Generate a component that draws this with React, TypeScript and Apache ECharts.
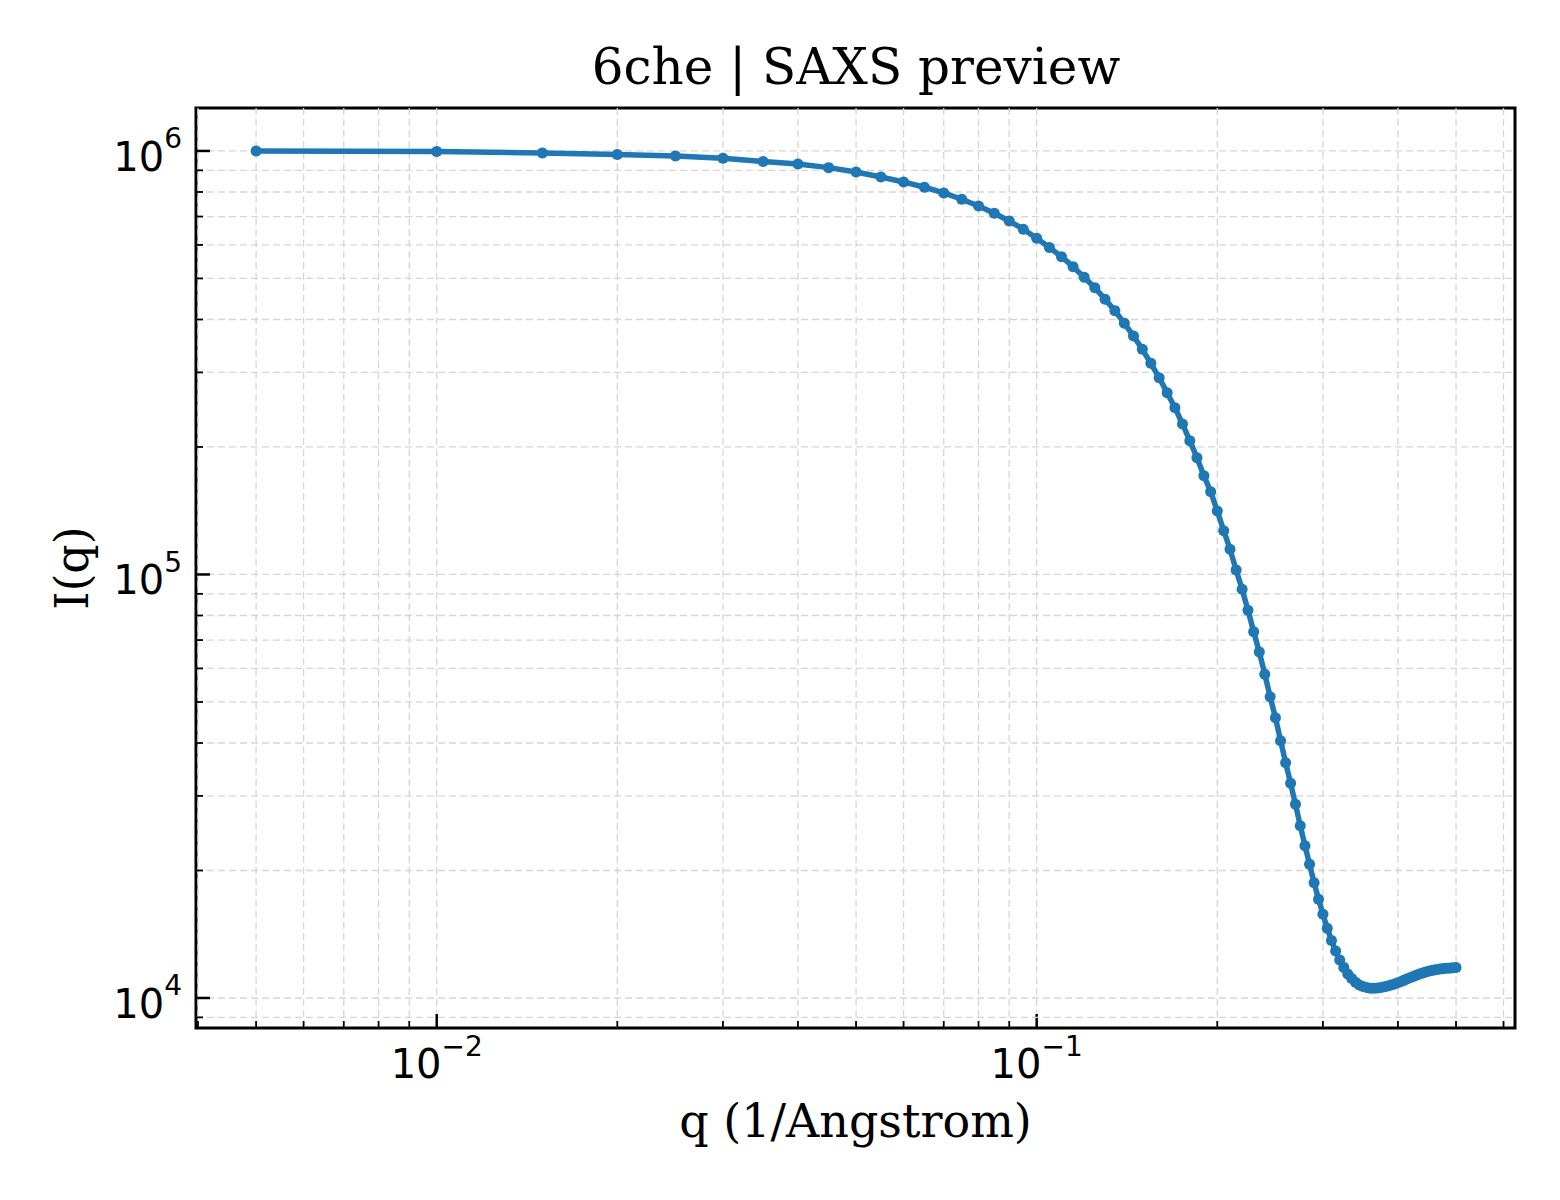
import { useEffect, useRef } from "react";
import * as echarts from "echarts";

// scattering vector q (1/Angstrom)
const Q = [
  0.005, 0.01, 0.015, 0.02, 0.025, 0.03, 0.035, 0.04, 0.045, 0.05,
  0.055, 0.06, 0.065, 0.07, 0.075, 0.08, 0.085, 0.09, 0.095, 0.1,
  0.105, 0.11, 0.115, 0.12, 0.125, 0.13, 0.135, 0.14, 0.145, 0.15,
  0.155, 0.16, 0.165, 0.17, 0.175, 0.18, 0.185, 0.19, 0.195, 0.2,
  0.205, 0.21, 0.215, 0.22, 0.225, 0.23, 0.235, 0.24, 0.245, 0.25,
  0.255, 0.26, 0.265, 0.27, 0.275, 0.28, 0.285, 0.29, 0.295, 0.3,
  0.305, 0.31, 0.315, 0.32, 0.325, 0.33, 0.335, 0.34, 0.345, 0.35,
  0.355, 0.36, 0.365, 0.37, 0.375, 0.38, 0.385, 0.39, 0.395, 0.4,
  0.405, 0.41, 0.415, 0.42, 0.425, 0.43, 0.435, 0.44, 0.445, 0.45,
  0.455, 0.46, 0.465, 0.47, 0.475, 0.48, 0.485, 0.49, 0.495, 0.5,
];

// intensity I(q)
const INTENSITY = [
  1000000, 997000, 989000, 981000, 973000, 961000, 944500, 931800, 913300, 892000,
  868200, 844900, 820900, 795900, 769100, 741600, 712700, 683500, 653400, 622200,
  591800, 562700, 533000, 503000, 475500, 446600, 419700, 391800, 365700, 340100,
  315100, 291500, 268700, 247600, 226600, 207000, 188700, 171100, 156800, 141200,
  126900, 114700, 102500, 92270, 82320, 73270, 65620, 58120, 51450, 45900,
  40510, 35940, 32130, 28670, 25510, 22890, 20690, 18720, 17100, 15760,
  14610, 13670, 12910, 12290, 11810, 11390, 11120, 10890, 10730, 10650,
  10580, 10550, 10550, 10560, 10590, 10630, 10670, 10730, 10790, 10860,
  10940, 11020, 11100, 11180, 11260, 11330, 11390, 11460, 11520, 11570,
  11610, 11650, 11680, 11710, 11730, 11750, 11760, 11770, 11780, 11800,
];

const X_MAJOR = [0.01, 0.1];
const X_MINOR = [
  0.004, 0.005, 0.006, 0.007, 0.008, 0.009,
  0.02, 0.03, 0.04, 0.05, 0.06, 0.07, 0.08, 0.09,
  0.2, 0.3, 0.4, 0.5, 0.6,
];
const Y_MAJOR = [10000, 100000, 1000000];
const Y_MINOR = [
  9000,
  20000, 30000, 40000, 50000, 60000, 70000, 80000, 90000,
  200000, 300000, 400000, 500000, 600000, 700000, 800000, 900000,
];

const FONT = "DejaVu Serif";
const TICK_FONT = "DejaVu Sans";
const GRID_COLOR = "#d6d6d6";

const supLabel = (v: number) => {
  const e = Math.round(Math.log10(v));
  const s = e < 0 ? "\u2212" + Math.abs(e) : String(e);
  return `{b|10}{s|${s}}`;
};

const labelRich = {
  b: { fontSize: 40, fontFamily: TICK_FONT, color: "#000", verticalAlign: "bottom", lineHeight: 52 },
  s: { fontSize: 28, fontFamily: TICK_FONT, color: "#000", verticalAlign: "top", lineHeight: 52 },
};

const App = () => {
  const ref = useRef<HTMLDivElement>(null);

  useEffect(() => {
    if (!ref.current) return;
    const chart = echarts.init(ref.current, undefined, { renderer: "svg" });

    // grid lines and ticks: [x, y, kind] kind 0 x-major, 1 x-minor, 2 y-major, 3 y-minor
    const guides: number[][] = [
      ...X_MAJOR.map((v) => [v, 100000, 0]),
      ...X_MINOR.map((v) => [v, 100000, 1]),
      ...Y_MAJOR.map((v) => [0.01, v, 2]),
      ...Y_MINOR.map((v) => [0.01, v, 3]),
    ];

    const option = {
      animation: false,
      title: {
        text: "6che | SAXS preview",
        left: 856,
        top: 42,
        padding: 0,
        textAlign: "center",
        textStyle: { fontSize: 50, fontWeight: "normal", fontFamily: FONT, color: "#000" },
      },
      grid: {
        left: 196,
        right: 45,
        top: 108,
        bottom: 172,
        show: true,
        borderColor: "#000",
        borderWidth: 3,
        backgroundColor: "transparent",
        containLabel: false,
        outerBoundsMode: "none",
      },
      xAxis: {
        type: "log",
        logBase: 10,
        min: 0.00397,
        max: 0.627,
        name: "q (1/Angstrom)",
        nameLocation: "middle",
        nameGap: 70,
        nameTextStyle: { fontSize: 46, fontFamily: FONT, color: "#000" },
        axisLine: { show: false },
        axisTick: { show: false },
        splitLine: { show: false },
        minorTick: { show: false },
        axisLabel: {
          customValues: X_MAJOR,
          margin: 4,
          formatter: supLabel,
          rich: labelRich,
        },
      },
      yAxis: {
        type: "log",
        logBase: 10,
        min: 8494,
        max: 1263000,
        name: "I(q)",
        nameLocation: "middle",
        nameGap: 101,
        nameTextStyle: { fontSize: 46, fontFamily: FONT, color: "#000" },
        axisLine: { show: false },
        axisTick: { show: false },
        splitLine: { show: false },
        minorTick: { show: false },
        axisLabel: {
          customValues: Y_MAJOR,
          margin: 14,
          formatter: supLabel,
          rich: labelRich,
        },
      },
      series: [
        {
          type: "custom",
          z: 1,
          silent: true,
          clip: false,
          encode: { x: 0, y: 1 },
          data: guides,
          renderItem: (params: any, api: any) => {
            const cs = params.coordSys;
            const kind = api.value(2);
            const major = kind === 0 || kind === 2;
            const len = major ? 14 : 7;
            const tickW = major ? 2.5 : 1.8;
            const gridStyle = { stroke: GRID_COLOR, lineWidth: 1.3, lineDash: [7, 4] };
            if (kind < 2) {
              const px = api.coord([api.value(0), api.value(1)])[0];
              const bottom = cs.y + cs.height;
              return {
                type: "group",
                children: [
                  { type: "line", shape: { x1: px, y1: cs.y, x2: px, y2: bottom }, style: gridStyle },
                  { type: "line", shape: { x1: px, y1: bottom, x2: px, y2: bottom - len }, style: { stroke: "#000", lineWidth: tickW } },
                ],
              };
            }
            const py = api.coord([api.value(0), api.value(1)])[1];
            return {
              type: "group",
              children: [
                { type: "line", shape: { x1: cs.x, y1: py, x2: cs.x + cs.width, y2: py }, style: gridStyle },
                { type: "line", shape: { x1: cs.x, y1: py, x2: cs.x + len, y2: py }, style: { stroke: "#000", lineWidth: tickW } },
              ],
            };
          },
        },
        {
          type: "line",
          z: 3,
          data: Q.map((q, i) => [q, INTENSITY[i]]),
          symbol: "circle",
          symbolSize: 11,
          showAllSymbol: true,
          lineStyle: { color: "#1f77b4", width: 5.5 },
          itemStyle: { color: "#1f77b4" },
        },
      ],
    };

    chart.setOption(option as any);
    return () => chart.dispose();
  }, []);

  return <div ref={ref} style={{ position: "absolute", left: 0, top: 0, width: 1560, height: 1200 }} />;
};

export default App;
